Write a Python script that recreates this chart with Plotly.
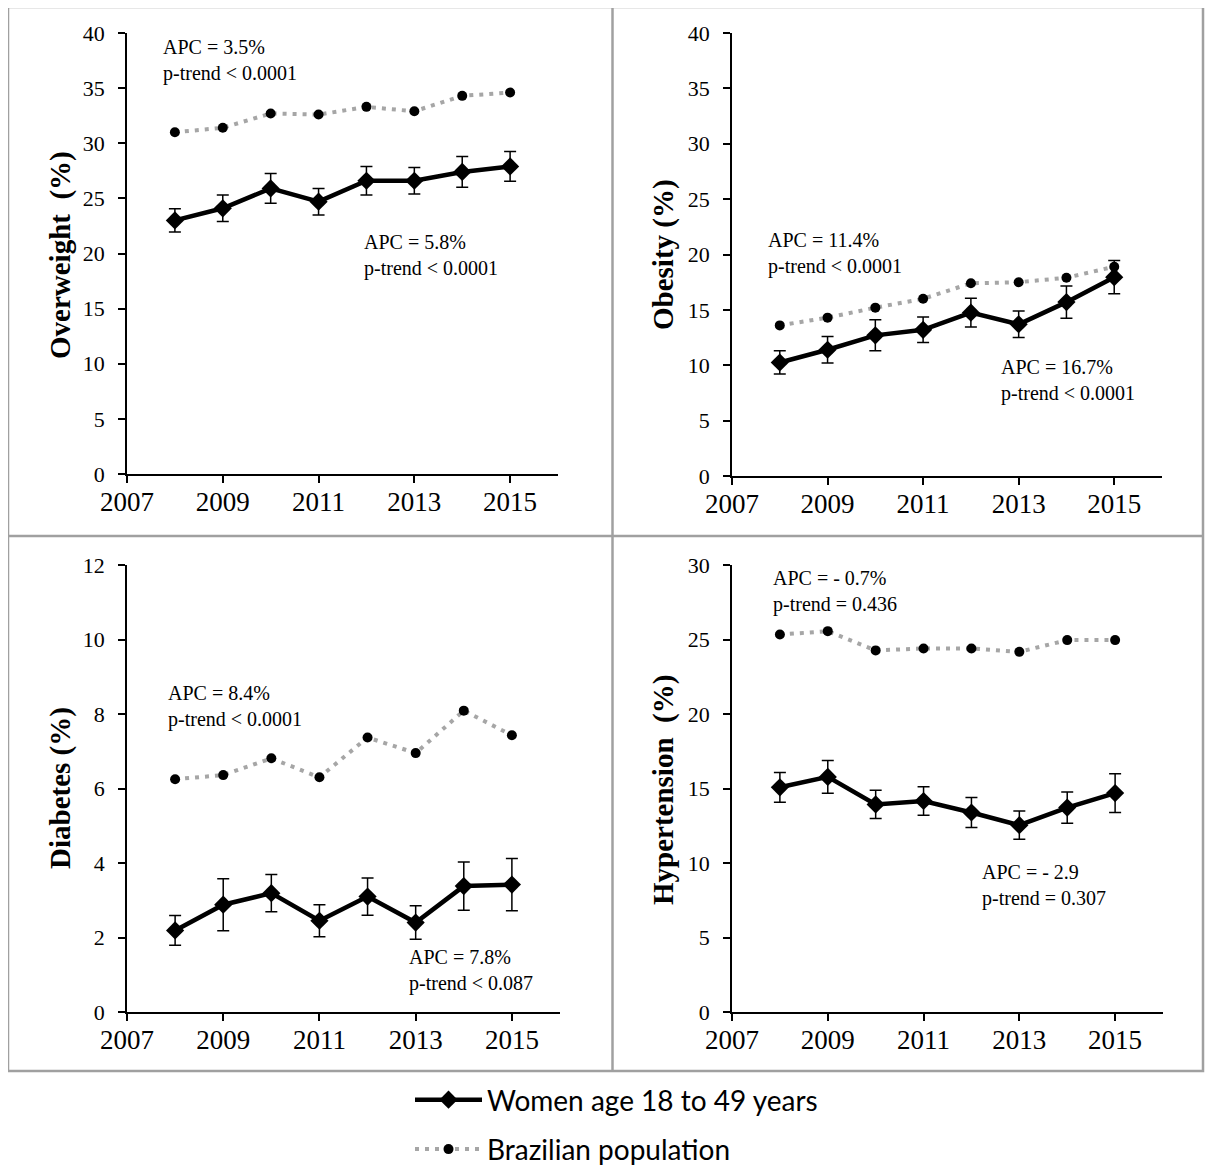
import plotly.graph_objects as go

W, H = 1213, 1167
OFF = 8  # page body margin of the written html

years = [2008, 2009, 2010, 2011, 2012, 2013, 2014, 2015]

# Overweight
ow_women = [23.0, 24.1, 25.9, 24.7, 26.6, 26.6, 27.4, 27.9]
ow_women_err = [1.05, 1.2, 1.35, 1.2, 1.3, 1.2, 1.4, 1.35]
ow_brazil = [31.0, 31.4, 32.7, 32.6, 33.3, 32.9, 34.3, 34.6]
# Obesity
ob_women = [10.25, 11.4, 12.7, 13.2, 14.75, 13.7, 15.7, 17.95]
ob_women_err = [1.05, 1.2, 1.4, 1.15, 1.3, 1.2, 1.45, 1.5]
ob_brazil = [13.6, 14.3, 15.2, 16.0, 17.4, 17.5, 17.9, 18.9]
# Diabetes
db_women = [2.19, 2.88, 3.19, 2.45, 3.1, 2.4, 3.38, 3.42]
db_women_err = [0.4, 0.7, 0.5, 0.43, 0.5, 0.45, 0.65, 0.7]
db_brazil = [6.25, 6.36, 6.81, 6.3, 7.37, 6.95, 8.09, 7.43]
# Hypertension
ht_women = [15.08, 15.78, 13.93, 14.16, 13.39, 12.54, 13.72, 14.69]
ht_women_err = [1.0, 1.1, 0.95, 0.95, 1.0, 0.95, 1.05, 1.3]
ht_brazil = [25.33, 25.56, 24.27, 24.4, 24.4, 24.17, 24.96, 24.96]

y_titles = ["Overweight&nbsp; (%)", "Obesity (%)", "Diabetes (%)", "Hypertension&nbsp; (%)"]
y_max = [40, 40, 12, 30]
y_dtick = [5, 5, 2, 5]
apc_brazil = ["APC = 3.5%<br>p-trend &lt; 0.0001", "APC = 11.4%<br>p-trend &lt; 0.0001",
              "APC = 8.4%<br>p-trend &lt; 0.0001", "APC = - 0.7%<br>p-trend = 0.436"]
apc_women = ["APC = 5.8%<br>p-trend &lt; 0.0001", "APC = 16.7%<br>p-trend &lt; 0.0001",
             "APC = 7.8%<br>p-trend &lt; 0.087", "APC = - 2.9<br>p-trend = 0.307"]
legend_names = ["Women age 18 to 49 years", "Brazilian population"]

women_sets = [(ow_women, ow_women_err), (ob_women, ob_women_err),
              (db_women, db_women_err), (ht_women, ht_women_err)]
brazil_sets = [ow_brazil, ob_brazil, db_brazil, ht_brazil]

# layout geometry in page pixels (left, right, top, bottom) of each plot area
areas = [(127, 558, 33, 474), (732, 1162, 33, 476), (127, 560, 565, 1012), (732, 1163, 565, 1012)]
ytitle_pos = [(60, 255), (663, 255), (60, 788), (663, 790)]
apc_b_pos = [(161, 60), (766, 254), (166, 706), (771, 591)]
apc_w_pos = [(362, 256), (999, 380), (407, 970), (980, 885)]

def px(x):
    return (x - OFF) / W

def py(y):
    return 1 - (y - OFF) / H

SERIF = "Liberation Serif, Times New Roman, serif"

fig = go.Figure()
layout = dict(
    width=W, height=H, margin=dict(l=0, r=0, t=0, b=0, pad=0, autoexpand=False),
    paper_bgcolor="white", plot_bgcolor="white",
    font=dict(family=SERIF, color="black"),
    showlegend=True,
)
annotations = []
for i in range(4):
    ax = "" if i == 0 else str(i + 1)
    wv, we = women_sets[i]
    fig.add_trace(go.Scatter(
        x=years, y=brazil_sets[i], mode="lines+markers", name=legend_names[1],
        xaxis="x" + ax, yaxis="y" + ax, showlegend=(i == 0), legendrank=2,
        legendgroup="b",
        line=dict(color="#a6a6a6", width=4, dash="4px,6px"),
        marker=dict(symbol="circle", size=10, color="black"),
    ))
    fig.add_trace(go.Scatter(
        x=years, y=wv, mode="lines+markers", name=legend_names[0],
        xaxis="x" + ax, yaxis="y" + ax, showlegend=(i == 0), legendrank=1,
        legendgroup="w",
        line=dict(color="black", width=4.5),
        marker=dict(symbol="diamond", size=14, color="black"),
        error_y=dict(type="data", array=we, visible=True, color="black", thickness=1.5, width=6),
    ))
    l, r, t, b = areas[i]
    layout["xaxis" + ax] = dict(
        domain=[px(l), px(r)], anchor="y" + ax, range=[2007, 2016], automargin=False,
        tick0=2007, dtick=2, ticks="outside", ticklen=7, tickwidth=1.5, tickcolor="black",
        showline=True, linecolor="black", linewidth=1.5, showgrid=False, zeroline=False,
        tickfont=dict(family=SERIF, size=27, color="black"), ticklabelstandoff=-4,
    )
    layout["yaxis" + ax] = dict(
        domain=[py(b), py(t)], anchor="x" + ax, range=[0, y_max[i]], automargin=False,
        tick0=0, dtick=y_dtick[i], ticks="outside", ticklen=7, tickwidth=1.5, tickcolor="black",
        showline=True, linecolor="black", linewidth=1.5, showgrid=False, zeroline=False,
        tickfont=dict(family=SERIF, size=22, color="black"), ticklabelstandoff=9,
    )
    tx, ty = ytitle_pos[i]
    annotations.append(dict(text="<b>" + y_titles[i] + "</b>", x=px(tx), y=py(ty), xref="paper", yref="paper",
                            textangle=-90, showarrow=False, xanchor="center", yanchor="middle",
                            font=dict(family=SERIF, size=29, color="black")))
    for (ax_, ay_), txt in ((apc_b_pos[i], apc_brazil[i]), (apc_w_pos[i], apc_women[i])):
        annotations.append(dict(text=txt, x=px(ax_), y=py(ay_), xref="paper", yref="paper",
                                showarrow=False, xanchor="left", yanchor="middle", align="left",
                                font=dict(family=SERIF, size=20, color="black")))

layout["annotations"] = annotations
border = "#a0a0a0"
layout["shapes"] = [
    dict(type="rect", xref="paper", yref="paper", x0=px(8), x1=px(1203), y0=py(1071), y1=py(7),
         line=dict(color=border, width=2.5)),
    dict(type="line", xref="paper", yref="paper", x0=px(612.5), x1=px(612.5), y0=py(1071), y1=py(7),
         line=dict(color=border, width=2.5)),
    dict(type="line", xref="paper", yref="paper", x0=px(8), x1=px(1203), y0=py(536), y1=py(536),
         line=dict(color=border, width=2.5)),
]
layout["legend"] = dict(
    x=px(410), y=py(1075), xanchor="left", yanchor="top",
    font=dict(family="Lato, Carlito, Calibri, sans-serif", size=28, color="black"),
    itemwidth=67, tracegroupgap=10, bgcolor="rgba(0,0,0,0)",
)
fig.update_layout(**layout)
fig.write_html("out.html")
